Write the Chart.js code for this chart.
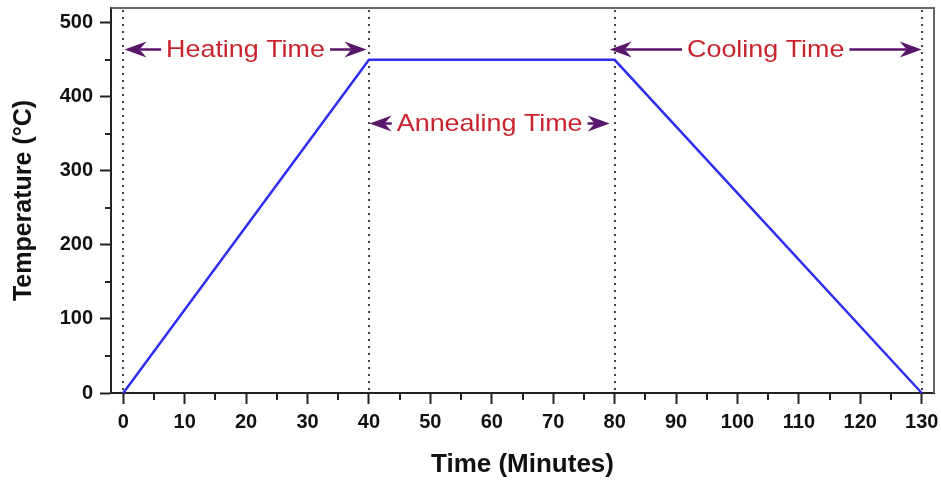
<!DOCTYPE html>
<html lang="en">
  <head>
    <meta charset="UTF-8" />
    <title>Annealing profile</title>
    <script src="https://cdn.jsdelivr.net/npm/chart.js@4.4.0/dist/chart.umd.min.js"></script>
    <style>
      body { margin: 0; background: #fff; }
    </style>
  </head>
  <body>
    <canvas id="myChart" width="941" height="483"></canvas>

    <script>
      // profile points
      const time_min = [0, 40, 80, 130];
      const temp_c = [0, 450, 450, 0];

      // axis ticks
      const x_ticks = [0, 10, 20, 30, 40, 50, 60, 70, 80, 90, 100, 110, 120, 130];
      const y_ticks = [0, 100, 200, 300, 400, 500];
      const x_minor = [5, 15, 25, 35, 45, 55, 65, 75, 85, 95, 105, 115, 125];
      const y_minor = [50, 150, 250, 350, 450];

      // dotted phase boundaries
      const marker_times = [0, 40, 80, 130];

      // phase arrows
      const phase_labels = ["Heating Time", "Annealing Time", "Cooling Time"];
      const phase_start = [0.2, 40.1, 79.2];
      const phase_end = [39.6, 79.2, 130];
      const phase_temp = [464, 364, 464];

      const FONT = "'Liberation Sans', Arial, sans-serif";

      function arrowHead(ctx, x, y, dir) {
        ctx.beginPath();
        ctx.moveTo(x, y);
        ctx.lineTo(x - dir * 22, y - 8);
        ctx.lineTo(x - dir * 15, y);
        ctx.lineTo(x - dir * 22, y + 8);
        ctx.closePath();
        ctx.fill();
      }

      const decor = {
        id: "decor",
        beforeDatasetsDraw(chart) {
          const { ctx, chartArea: a, scales } = chart;
          ctx.save();
          ctx.strokeStyle = "#444";
          ctx.lineWidth = 2;
          ctx.setLineDash([2, 5]);
          marker_times.forEach((t) => {
            const px = Math.round(scales.x.getPixelForValue(t));
            ctx.beginPath();
            ctx.moveTo(px, a.top + 2);
            ctx.lineTo(px, a.bottom);
            ctx.stroke();
          });
          ctx.restore();
        },
        afterDraw(chart) {
          const { ctx, chartArea: a, scales } = chart;
          ctx.save();
          // top and right frame
          ctx.strokeStyle = "#666";
          ctx.lineWidth = 2;
          ctx.beginPath();
          ctx.moveTo(a.left, a.top);
          ctx.lineTo(a.right, a.top);
          ctx.lineTo(a.right, a.bottom);
          ctx.stroke();

          // minor ticks
          ctx.strokeStyle = "#222";
          ctx.lineWidth = 2;
          x_minor.forEach((v) => {
            const px = Math.round(scales.x.getPixelForValue(v));
            ctx.beginPath();
            ctx.moveTo(px, a.bottom);
            ctx.lineTo(px, a.bottom + 7);
            ctx.stroke();
          });
          y_minor.forEach((v) => {
            const py = Math.round(scales.y.getPixelForValue(v));
            ctx.beginPath();
            ctx.moveTo(a.left, py);
            ctx.lineTo(a.left - 6, py);
            ctx.stroke();
          });

          // phase arrows and labels
          ctx.font = "24px " + FONT;
          ctx.textBaseline = "middle";
          ctx.textAlign = "center";
          const stretch = 1.12;
          phase_labels.forEach((label, i) => {
            const x1 = scales.x.getPixelForValue(phase_start[i]);
            const x2 = scales.x.getPixelForValue(phase_end[i]);
            const y = scales.y.getPixelForValue(phase_temp[i]);
            const mid = (x1 + x2) / 2;
            const half = (ctx.measureText(label).width * stretch) / 2;

            ctx.strokeStyle = "#5a166b";
            ctx.fillStyle = "#5a166b";
            ctx.lineWidth = 2.5;
            ctx.beginPath();
            ctx.moveTo(x1 + 15, y);
            ctx.lineTo(Math.max(x1 + 15, mid - half - 5), y);
            ctx.moveTo(x2 - 15, y);
            ctx.lineTo(Math.min(x2 - 15, mid + half + 5), y);
            ctx.stroke();
            arrowHead(ctx, x1, y, -1);
            arrowHead(ctx, x2, y, 1);

            ctx.save();
            ctx.translate(mid, y + 1);
            ctx.scale(stretch, 1);
            ctx.fillStyle = "#c8242e";
            ctx.fillText(label, 0, 0);
            ctx.restore();
          });
          ctx.restore();
        },
      };

      const tickFont = { family: FONT, size: 20, weight: "bold" };

      new Chart(document.getElementById("myChart").getContext("2d"), {
        type: "line",
        data: {
          datasets: [
            {
              label: "Temperature",
              data: time_min.map((t, i) => ({ x: t, y: temp_c[i] })),
              borderColor: "#2e2ef0",
              borderWidth: 2.5,
              pointRadius: 0,
              tension: 0,
              clip: false,
            },
          ],
        },
        options: {
          responsive: false,
          animation: false,
          layout: { padding: { left: 0, top: 8, right: 7, bottom: 0 } },
          plugins: { legend: { display: false }, tooltip: { enabled: false } },
          scales: {
            x: {
              type: "linear",
              min: -2,
              max: 132,
              afterBuildTicks: (s) => { s.ticks = x_ticks.map((v) => ({ value: v })); },
              afterFit: (s) => { s.height = 90; s.paddingLeft = 0; s.paddingRight = 0; },
              ticks: { color: "#111", font: tickFont, padding: 6, maxRotation: 0, autoSkip: false },
              grid: { drawOnChartArea: false, tickLength: 11, tickWidth: 2, tickColor: "#222" },
              border: { display: true, color: "#222", width: 2 },
              title: {
                display: true,
                text: "Time (Minutes)",
                color: "#111",
                font: { family: FONT, size: 26, weight: "bold" },
                padding: { top: 0, bottom: 3 },
              },
            },
            y: {
              min: 0,
              max: 520,
              afterBuildTicks: (s) => { s.ticks = y_ticks.map((v) => ({ value: v })); },
              afterFit: (s) => { s.width = 111; s.paddingTop = 0; s.paddingBottom = 0; },
              ticks: { color: "#111", font: tickFont, padding: 7 },
              grid: { drawOnChartArea: false, tickLength: 11, tickWidth: 2, tickColor: "#222" },
              border: { display: true, color: "#222", width: 2 },
              title: {
                display: true,
                text: "Temperature (°C)",
                color: "#111",
                font: { family: FONT, size: 25, weight: "bold" },
                padding: { top: 9, bottom: 0 },
              },
            },
          },
        },
        plugins: [decor],
      });
    </script>
  </body>
</html>
